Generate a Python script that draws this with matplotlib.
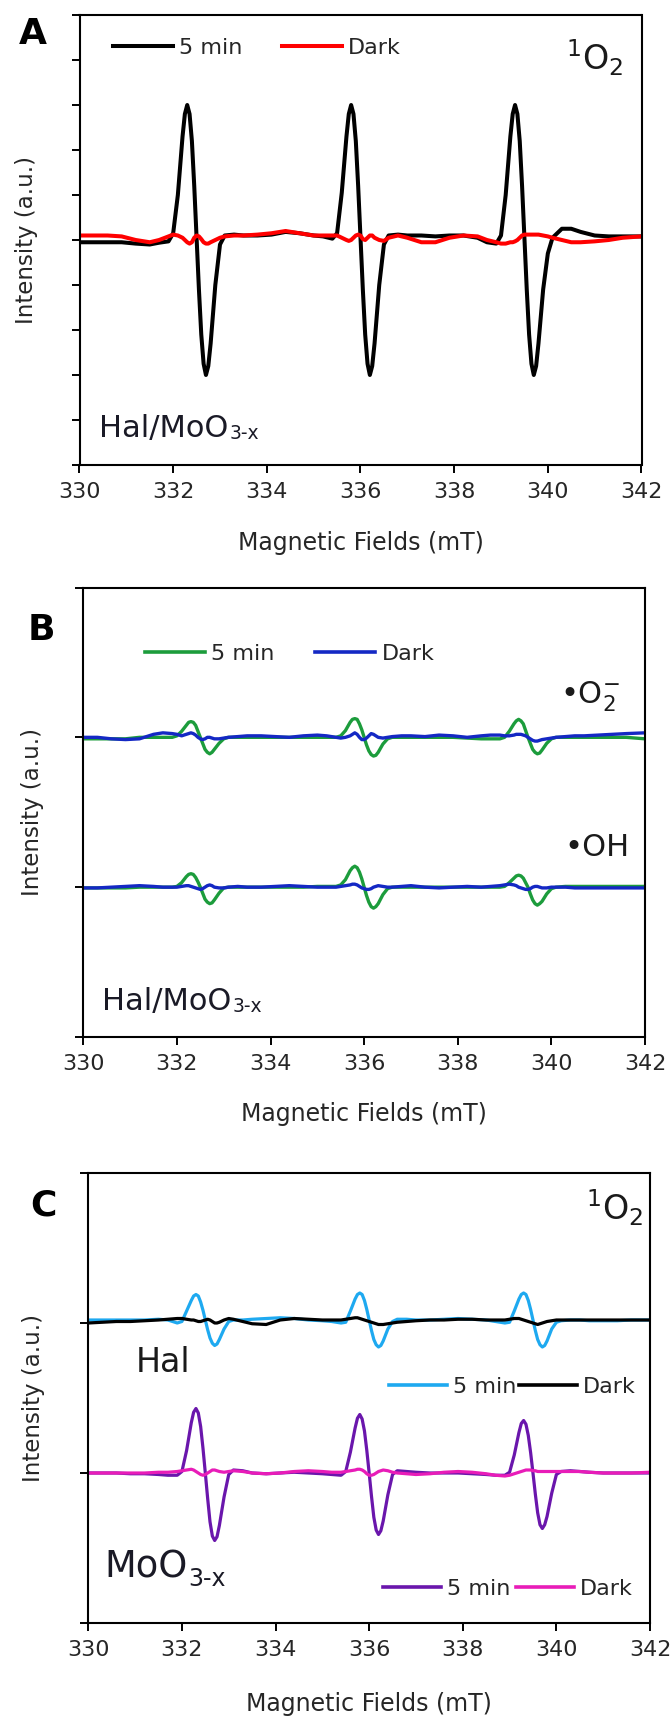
import matplotlib
matplotlib.use('Agg')
import matplotlib.pyplot as plt
from matplotlib.lines import Line2D

plt.rcParams['font.family'] = ['DejaVu Sans']
plt.rcParams['mathtext.default'] = 'regular'

W, H, DPI = 671, 1718, 100

# ---------------- data ----------------
FIELD = [330.0, 330.3, 330.6, 330.9, 331.2, 331.5, 331.7,
         331.9, 332.0, 332.1, 332.2, 332.25, 332.3, 332.35, 332.4, 332.45, 332.5,
         332.55, 332.6, 332.65, 332.7, 332.75, 332.8, 332.9, 333.0, 333.1,
         333.3, 333.5, 333.8, 334.1, 334.4, 334.7, 335.0, 335.2,
         335.4, 335.5, 335.6, 335.7, 335.75, 335.8, 335.85, 335.9, 335.95, 336.0,
         336.05, 336.1, 336.15, 336.2, 336.25, 336.3, 336.4, 336.5, 336.6,
         336.8, 337.0, 337.3, 337.6, 337.9, 338.2, 338.5, 338.7,
         338.9, 339.0, 339.1, 339.2, 339.25, 339.3, 339.35, 339.4, 339.45, 339.5,
         339.55, 339.6, 339.65, 339.7, 339.75, 339.8, 339.9, 340.0, 340.1,
         340.3, 340.5, 340.7, 341.0, 341.3, 341.6, 342.0]

# Panel A : Hal/MoO3-x, 1O2
A_5MIN = [-0.05, -0.05, -0.05, -0.05, -0.08, -0.10, -0.06,
          -0.03, 0.15, 1.0, 2.3, 2.8, 3.0, 2.8, 2.2, 1.2, 0.05, -1.1, -2.1, -2.75, -3.0, -2.8, -2.3, -1.0, -0.1, 0.1,
          0.12, 0.1, 0.1, 0.12, 0.18, 0.15, 0.1, 0.08,
          0.03, 0.15, 1.05, 2.3, 2.8, 3.0, 2.8, 2.2, 1.2, 0.05, -1.1, -2.1, -2.75, -3.0, -2.8, -2.3, -1.0, -0.1, 0.1,
          0.12, 0.1, 0.1, 0.08, 0.1, 0.1, 0.05, -0.05,
          -0.08, 0.1, 1.0, 2.3, 2.8, 3.0, 2.8, 2.2, 1.2, 0.05, -1.1, -2.1, -2.75, -3.0, -2.8, -2.3, -1.1, -0.3, 0.05,
          0.25, 0.25, 0.18, 0.1, 0.08, 0.08, 0.08]
A_DARK = [0.1, 0.1, 0.1, 0.08, 0.0, -0.05, 0.0,
          0.08, 0.12, 0.1, 0.05, 0.0, -0.05, -0.08, -0.05, 0.05, 0.1, 0.08, 0.02, -0.05, -0.08, -0.08, -0.05, 0.0, 0.05, 0.08,
          0.1, 0.1, 0.12, 0.15, 0.2, 0.15, 0.1, 0.1,
          0.1, 0.1, 0.05, 0.0, -0.02, 0.0, 0.05, 0.1, 0.12, 0.1, 0.02, 0.0, 0.05, 0.1, 0.1, 0.05, 0.0, -0.02, 0.05,
          0.1, 0.05, -0.05, -0.05, 0.05, 0.1, 0.08, 0.0,
          -0.05, -0.08, -0.08, -0.05, -0.05, -0.03, 0.0, 0.05, 0.1, 0.12, 0.12, 0.12, 0.12, 0.12, 0.12, 0.12, 0.1, 0.08, 0.05,
          0.0, -0.05, -0.05, -0.03, 0.0, 0.05, 0.08]

# Panel B : Hal/MoO3-x, upper trace = .O2-, lower trace = .OH
B_O2_5MIN = [1.99, 1.99, 1.99, 1.99, 2.00, 2.00, 2.00,
             2.00, 2.01, 2.04, 2.08, 2.10, 2.105, 2.10, 2.08, 2.04, 2.00, 1.96, 1.92, 1.90, 1.89, 1.90, 1.92, 1.96, 1.99, 2.00,
             2.00, 2.00, 2.00, 2.00, 2.00, 2.00, 2.00, 2.00,
             2.00, 2.01, 2.045, 2.10, 2.12, 2.125, 2.12, 2.09, 2.05, 2.00, 1.95, 1.91, 1.885, 1.875, 1.88, 1.90, 1.955, 1.99, 2.00,
             2.00, 2.00, 2.00, 2.00, 2.00, 1.995, 1.99, 1.99,
             1.99, 2.00, 2.04, 2.09, 2.11, 2.12, 2.11, 2.09, 2.045, 2.00, 1.96, 1.92, 1.90, 1.89, 1.895, 1.915, 1.96, 1.99, 2.00,
             2.00, 2.00, 2.00, 2.00, 2.00, 2.00, 1.99]
B_O2_DARK = [2.00, 2.00, 1.99, 1.985, 1.99, 2.02, 2.03,
             2.025, 2.02, 2.01, 2.02, 2.025, 2.03, 2.025, 2.015, 2.00, 1.99, 1.985, 1.99, 2.00, 2.00, 1.995, 1.99, 1.99, 1.995, 2.00,
             2.005, 2.01, 2.01, 2.005, 2.00, 2.01, 2.015, 2.01,
             2.00, 1.995, 2.00, 2.01, 2.02, 2.03, 2.02, 2.00, 1.985, 1.985, 1.995, 2.01, 2.025, 2.02, 2.01, 2.00, 1.995, 2.00, 2.005,
             2.01, 2.01, 2.005, 2.015, 2.01, 2.00, 2.01, 2.015,
             2.015, 2.01, 2.01, 2.015, 2.02, 2.02, 2.02, 2.015, 2.01, 2.00, 1.99, 1.98, 1.975, 1.975, 1.98, 1.985, 1.99, 1.995, 2.00,
             2.005, 2.01, 2.01, 2.015, 2.02, 2.025, 2.03]
B_OH_5MIN = [0.995, 0.995, 0.995, 0.995, 1.00, 1.00, 1.00,
             1.00, 1.005, 1.03, 1.07, 1.085, 1.09, 1.085, 1.065, 1.035, 1.00, 0.96, 0.92, 0.90, 0.89, 0.895, 0.915, 0.96, 0.995, 1.00,
             1.00, 1.00, 1.00, 1.00, 1.00, 1.00, 1.005, 1.005,
             1.005, 1.015, 1.05, 1.11, 1.13, 1.14, 1.13, 1.10, 1.055, 1.00, 0.945, 0.90, 0.87, 0.86, 0.87, 0.89, 0.95, 0.99, 1.00,
             1.00, 1.00, 1.00, 1.00, 1.00, 1.00, 1.00, 1.00,
             1.00, 1.005, 1.03, 1.06, 1.075, 1.08, 1.075, 1.06, 1.03, 1.00, 0.955, 0.915, 0.89, 0.88, 0.89, 0.905, 0.955, 0.99, 1.00,
             1.005, 1.005, 1.005, 1.005, 1.005, 1.005, 1.005]
B_OH_DARK = [0.995, 0.995, 1.00, 1.005, 1.01, 1.005, 1.00,
             1.00, 1.00, 1.005, 1.01, 1.01, 1.005, 1.00, 0.995, 0.99, 0.985, 0.99, 1.00, 1.01, 1.015, 1.01, 1.00, 0.995, 0.995, 1.00,
             1.005, 1.00, 1.00, 1.005, 1.01, 1.005, 1.00, 1.00,
             1.00, 1.005, 1.01, 1.015, 1.02, 1.02, 1.015, 1.005, 0.995, 0.99, 0.985, 0.985, 0.99, 1.00, 1.005, 1.01, 1.005, 1.00, 1.00,
             1.005, 1.01, 1.00, 0.995, 1.00, 1.005, 1.00, 1.005,
             1.01, 1.015, 1.02, 1.015, 1.01, 1.00, 0.995, 0.99, 0.985, 0.985, 0.99, 1.00, 1.005, 1.005, 1.00, 0.995, 0.995, 1.00, 1.00,
             1.00, 0.995, 0.995, 0.995, 0.995, 0.995, 0.995]

# Panel C : 1O2, upper trace = Hal, lower trace = MoO3-x
C_HAL_5MIN = [2.02, 2.02, 2.02, 2.02, 2.02, 2.025, 2.02,
              2.00, 2.01, 2.08, 2.15, 2.18, 2.19, 2.18, 2.14, 2.085, 2.02, 1.955, 1.90, 1.865, 1.85, 1.86, 1.89, 1.96, 2.01, 2.02,
              2.02, 2.025, 2.03, 2.035, 2.03, 2.02, 2.015, 2.01,
              2.00, 2.005, 2.08, 2.16, 2.19, 2.20, 2.19, 2.15, 2.09, 2.02, 1.95, 1.89, 1.855, 1.84, 1.85, 1.88, 1.96, 2.01, 2.025,
              2.025, 2.02, 2.02, 2.025, 2.03, 2.025, 2.02, 2.01,
              2.00, 2.005, 2.08, 2.16, 2.19, 2.20, 2.19, 2.15, 2.09, 2.02, 1.95, 1.89, 1.855, 1.84, 1.85, 1.88, 1.96, 2.005, 2.015,
              2.02, 2.02, 2.015, 2.015, 2.015, 2.02, 2.02]
C_HAL_DARK = [2.00, 2.005, 2.01, 2.01, 2.015, 2.02, 2.025,
              2.03, 2.03, 2.025, 2.02, 2.02, 2.015, 2.01, 2.01, 2.015, 2.02, 2.025, 2.02, 2.01, 2.00, 2.00, 2.005, 2.02, 2.03, 2.025,
              2.01, 1.995, 1.99, 2.02, 2.03, 2.025, 2.02, 2.02,
              2.02, 2.025, 2.03, 2.035, 2.035, 2.03, 2.025, 2.02, 2.015, 2.01, 2.005, 2.00, 1.995, 1.99, 1.99, 1.99, 1.995, 2.00, 2.005,
              2.01, 2.015, 2.02, 2.02, 2.025, 2.025, 2.02, 2.02,
              2.02, 2.025, 2.03, 2.03, 2.025, 2.02, 2.015, 2.01, 2.005, 2.00, 1.995, 1.99, 1.995, 2.00, 2.005, 2.01, 2.015, 2.02, 2.02,
              2.02, 2.02, 2.02, 2.02, 2.02, 2.02, 2.02]
C_MOO_5MIN = [1.00, 1.00, 1.00, 0.995, 0.995, 0.99, 0.985,
              0.985, 1.01, 1.15, 1.335, 1.405, 1.43, 1.40, 1.31, 1.165, 1.00, 0.83, 0.675, 0.58, 0.55, 0.575, 0.65, 0.84, 0.99, 1.02,
              1.015, 1.00, 0.995, 1.00, 1.005, 1.00, 0.995, 0.99,
              0.985, 1.01, 1.14, 1.30, 1.365, 1.39, 1.36, 1.28, 1.15, 1.00, 0.845, 0.705, 0.62, 0.59, 0.615, 0.68, 0.855, 0.99, 1.015,
              1.01, 1.005, 1.00, 1.00, 1.00, 0.995, 0.99, 0.985,
              0.985, 1.005, 1.12, 1.27, 1.33, 1.35, 1.325, 1.25, 1.135, 1.00, 0.86, 0.735, 0.655, 0.63, 0.655, 0.71, 0.865, 0.99, 1.01,
              1.015, 1.01, 1.005, 1.00, 1.00, 1.00, 1.00]
C_MOO_DARK = [1.00, 1.00, 1.00, 1.00, 1.00, 1.005, 1.005,
              1.01, 1.015, 1.02, 1.025, 1.02, 1.01, 1.00, 0.99, 0.985, 0.99, 1.00, 1.01, 1.02, 1.02, 1.015, 1.01, 1.005, 1.01, 1.015,
              1.01, 1.00, 0.995, 1.00, 1.01, 1.015, 1.01, 1.005,
              1.005, 1.01, 1.015, 1.02, 1.025, 1.025, 1.02, 1.01, 0.995, 0.985, 0.985, 0.99, 1.00, 1.01, 1.015, 1.02, 1.015, 1.005, 1.00,
              0.995, 0.99, 0.995, 1.005, 1.01, 1.005, 0.995, 0.985,
              0.98, 0.985, 0.995, 1.005, 1.01, 1.015, 1.02, 1.02, 1.02, 1.015, 1.015, 1.01, 1.01, 1.01, 1.01, 1.01, 1.01, 1.01, 1.01,
              1.01, 1.01, 1.005, 1.00, 1.00, 1.00, 1.005]

XTICKS = [330, 332, 334, 336, 338, 340, 342]
A_YTICKS = [-5, -4, -3, -2, -1, 0, 1, 2, 3, 4, 5]
BC_YTICKS = [0, 1, 2, 3]
LEG_LABELS = ['5 min', 'Dark']

# colours
BLACK, RED = '#000000', '#ff0000'
GREEN, BLUE = '#1c9c3c', '#1428c4'
CYAN, PURPLE, MAGENTA = '#1ea9f0', '#6a16ac', '#e81cb8'
TXT = '#262626'

fig = plt.figure(figsize=(W / DPI, H / DPI), dpi=DPI)


def axes_px(left, top, right, bottom):
    return fig.add_axes([left / W, 1 - bottom / H, (right - left) / W, (bottom - top) / H])


def style(ax, yticks, ylim, ylab_x, xlab_y):
    ax.set_xlim(330, 342)
    ax.set_ylim(*ylim)
    ax.set_xticks(XTICKS)
    ax.set_xticklabels([str(t) for t in XTICKS])
    ax.set_yticks(yticks)
    ax.set_yticklabels([])
    ax.tick_params(axis='both', direction='out', length=5.5, width=1.4, color='black')
    ax.tick_params(axis='x', labelsize=16, pad=7, labelcolor=TXT)
    for s in ax.spines.values():
        s.set_linewidth(1.5)
        s.set_color('black')
    ax.text(0.5, xlab_y, 'Magnetic Fields (mT)', transform=ax.transAxes,
            ha='center', va='center', fontsize=17, color=TXT)
    ax.text(ylab_x, 0.5, 'Intensity (a.u.)', transform=ax.transAxes, rotation=90,
            ha='center', va='center', fontsize=16.5, color=TXT)


def legend(ax, colors, lw, x, y, colsp, hl):
    handles = [Line2D([], [], color=c, lw=lw) for c in colors]
    leg = ax.legend(handles, LEG_LABELS, loc='center left', bbox_to_anchor=(x, y),
                    ncol=2, frameon=False, fontsize=16, handlelength=hl,
                    handletextpad=0.27, columnspacing=colsp, borderpad=0,
                    borderaxespad=0)
    for t in leg.get_texts():
        t.set_color(TXT)
    return leg


def formula(ax, x, y, main, sub, fs_main, fs_sub, dy):
    t = ax.text(x, y, main, transform=ax.transAxes, ha='left', va='baseline',
                fontsize=fs_main, color='#1a1a26')
    ax.annotate(sub, xy=(1, 0), xycoords=t, xytext=(0.5, dy), textcoords='offset points',
                ha='left', va='baseline', fontsize=fs_sub, color='#1a1a26')


# ---------------- Panel A ----------------
axA = axes_px(79.5, 15, 641.5, 465)
axA.plot(FIELD, A_5MIN, color=BLACK, lw=2.9, solid_joinstyle='round')
axA.plot(FIELD, A_DARK, color=RED, lw=2.9, solid_joinstyle='round')
style(axA, A_YTICKS, (-5, 5), -0.095, -0.173)
legend(axA, [BLACK, RED], 2.9, 0.0596, 0.927, 1.8, 2.7)
axA.text(0.967, 0.876, r'$^{1}$O$_{2}$', transform=axA.transAxes, ha='right',
         va='baseline', fontsize=24, color='#1a1a1a')
formula(axA, 0.0347, 0.0622, 'Hal/MoO', '3-x', 22, 13.5, 3)

# ---------------- Panel B ----------------
axB = axes_px(83.3, 587.5, 645, 1037)
axB.plot(FIELD, B_O2_5MIN, color=GREEN, lw=2.4, solid_joinstyle='round')
axB.plot(FIELD, B_O2_DARK, color=BLUE, lw=2.4, solid_joinstyle='round')
axB.plot(FIELD, B_OH_5MIN, color=GREEN, lw=2.4, solid_joinstyle='round')
axB.plot(FIELD, B_OH_DARK, color=BLUE, lw=2.4, solid_joinstyle='round')
style(axB, BC_YTICKS, (0, 3), -0.0913, -0.171)
legend(axB, [GREEN, BLUE], 2.6, 0.1098, 0.852, 1.85, 2.7)
axB.text(0.9555, 0.743, '\u2022O$_{2}^{-}$', transform=axB.transAxes, ha='right',
         va='baseline', fontsize=22, color='#1a1a1a')
axB.text(0.973, 0.4027, '\u2022OH', transform=axB.transAxes, ha='right',
         va='baseline', fontsize=22, color='#1a1a1a')
formula(axB, 0.0333, 0.06, 'Hal/MoO', '3-x', 22, 13.5, 3)

# ---------------- Panel C ----------------
axC = axes_px(88.3, 1173, 650, 1623)
axC.plot(FIELD, C_HAL_5MIN, color=CYAN, lw=2.3, solid_joinstyle='round')
axC.plot(FIELD, C_HAL_DARK, color=BLACK, lw=2.3, solid_joinstyle='round')
axC.plot(FIELD, C_MOO_5MIN, color=PURPLE, lw=2.3, solid_joinstyle='round')
axC.plot(FIELD, C_MOO_DARK, color=MAGENTA, lw=2.3, solid_joinstyle='round')
style(axC, BC_YTICKS, (0, 3), -0.0967, -0.179)
leg1 = legend(axC, [CYAN, BLACK], 2.6, 0.535, 0.5244, 0.13, 2.6)
axC.add_artist(leg1)
legend(axC, [PURPLE, MAGENTA], 2.6, 0.5246, 0.0756, 0.27, 2.6)
axC.text(0.9875, 0.8956, r'$^{1}$O$_{2}$', transform=axC.transAxes, ha='right',
         va='baseline', fontsize=24, color='#1a1a1a')
axC.text(0.085, 0.5578, 'Hal', transform=axC.transAxes, ha='left', va='baseline',
         fontsize=24, color='#1a1a1a')
formula(axC, 0.028, 0.10, 'MoO', '3-x', 26.5, 17, 0)

# panel letters
for lab, xp, yp in [('A', 33, 34), ('B', 41, 630), ('C', 43, 1206)]:
    fig.text(xp / W, 1 - yp / H, lab, ha='center', va='center', fontsize=26,
             fontweight='bold', color='black')

fig.savefig('out.png', dpi=DPI)
